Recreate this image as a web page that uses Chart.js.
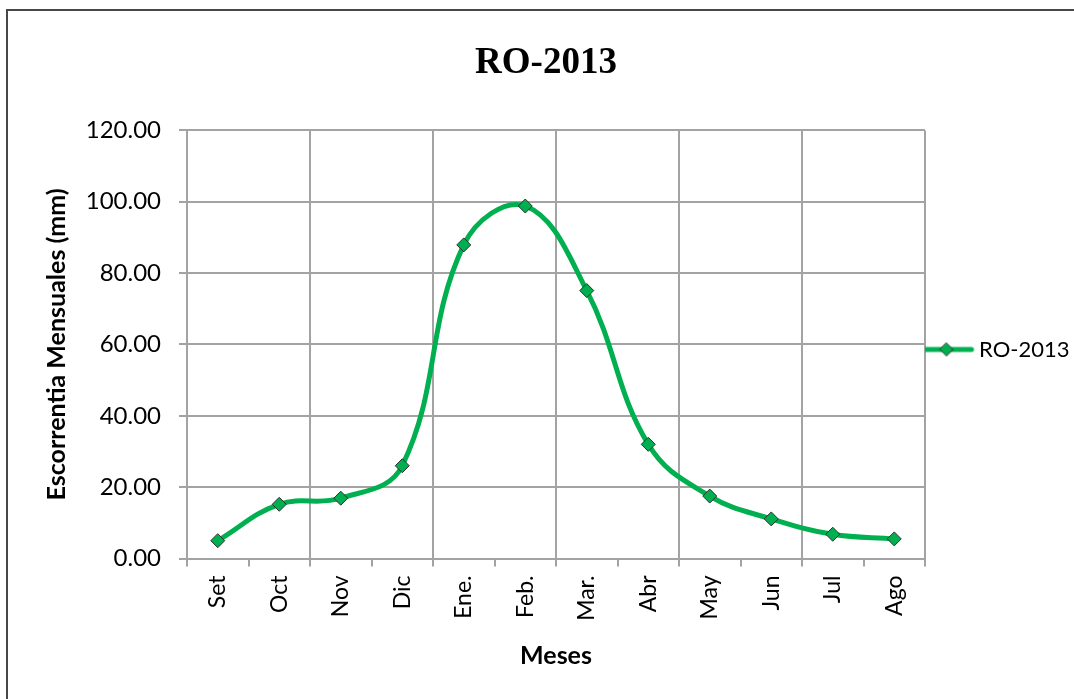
<!DOCTYPE html>
<html>
<head>
<meta charset="utf-8">
<title>RO-2013</title>
<script src="https://cdn.jsdelivr.net/npm/chart.js@4.4.1/dist/chart.umd.min.js"></script>
<style>
  html, body { margin: 0; padding: 0; background: #fff; }
  #wrap { position: relative; width: 1074px; height: 699px; overflow: hidden; }
  #frame { position: absolute; left: 6px; top: 9px; width: 1100px; height: 730px;
           border: 2px solid #474747; box-sizing: border-box; }
  #c { position: absolute; left: 0; top: 0; }
</style>
</head>
<body>
<div id="wrap">
  <div id="frame"></div>
  <canvas id="c" width="1074" height="699"></canvas>
</div>
<script>
// Escorrentía mensual, año hidrológico 2013 (mm)
const meses = ['Set', 'Oct', 'Nov', 'Dic', 'Ene.', 'Feb.', 'Mar.', 'Abr', 'May', 'Jun', 'Jul', 'Ago'];
const escorrentia = [5.0, 15.2, 16.9, 26.0, 87.9, 98.8, 75.1, 32.0, 17.5, 11.1, 6.8, 5.5];
const marcasY = [0, 20, 40, 60, 80, 100, 120];
const nombreSerie = 'RO-2013';

const VERDE = '#00B050';
const GRIS = '#a3a3a3';
const FUENTE = 'Lato, "Open Sans", sans-serif';

// Muestra de la leyenda: tramo de línea con el rombo en el centro
function muestraLeyenda() {
  const c = document.createElement('canvas');
  c.width = 60; c.height = 16;
  const g = c.getContext('2d');
  g.strokeStyle = VERDE; g.lineWidth = 5; g.lineCap = 'round';
  g.beginPath(); g.moveTo(3, 8); g.lineTo(55, 8); g.stroke();
  g.beginPath();
  g.moveTo(30, 1.5); g.lineTo(36.5, 8); g.lineTo(30, 14.5); g.lineTo(23.5, 8); g.closePath();
  g.fillStyle = VERDE; g.fill();
  g.strokeStyle = '#2f2f2f'; g.lineWidth = 1; g.stroke();
  return c;
}
const muestra = muestraLeyenda();

new Chart(document.getElementById('c'), {
  type: 'line',
  data: {
    labels: meses,
    datasets: [{
      label: nombreSerie,
      data: escorrentia,
      borderColor: VERDE,
      borderWidth: 5,
      tension: 0.4,
      fill: false,
      pointStyle: 'rectRot',
      pointRadius: 7,
      pointHoverRadius: 7,
      pointBackgroundColor: VERDE,
      pointBorderColor: '#2f2f2f',
      pointBorderWidth: 1
    }]
  },
  options: {
    responsive: false,
    animation: false,
    devicePixelRatio: 1,
    layout: { padding: { left: 18, right: 0, top: 0, bottom: 0 } },
    plugins: {
      title: {
        display: true,
        text: nombreSerie,
        color: '#000',
        font: { family: '"Liberation Serif", "Times New Roman", serif', size: 37, weight: 'bold' },
        padding: { top: 41, bottom: 45 }
      },
      legend: {
        position: 'right',
        maxWidth: 149,
        labels: {
          usePointStyle: true,
          pointStyleWidth: 43,
          padding: 0,
          color: '#000',
          font: { family: FUENTE, size: 22 },
          generateLabels(chart) {
            const items = Chart.defaults.plugins.legend.labels.generateLabels(chart);
            items.forEach(it => { it.pointStyle = muestra; });
            return items;
          }
        }
      },
      tooltip: { enabled: false }
    },
    scales: {
      x: {
        offset: true,
        grid: {
          offset: true,
          lineWidth: 2,
          color: ctx => (ctx.type !== 'tick' || ctx.index % 2 === 0) ? GRIS : 'rgba(0,0,0,0)',
          tickColor: GRIS,
          tickLength: 8
        },
        border: { color: GRIS, width: 2 },
        ticks: {
          minRotation: 90,
          maxRotation: 90,
          padding: 9,
          color: '#000',
          font: { family: FUENTE, size: 23 }
        },
        title: {
          display: true,
          text: 'Meses',
          color: '#000',
          font: { family: FUENTE, size: 25, weight: 'bold' },
          padding: { top: 10, bottom: 28 }
        },
        afterFit(s) { s.height = 140.5; }
      },
      y: {
        min: 0,
        max: 120,
        grid: { lineWidth: 2, color: GRIS, tickColor: GRIS, tickLength: 8 },
        border: { color: GRIS, width: 2 },
        afterBuildTicks(s) { s.ticks = marcasY.map(v => ({ value: v })); },
        ticks: {
          padding: 18,
          color: '#000',
          font: { family: FUENTE, size: 24 },
          callback: v => Number(v).toFixed(2)
        },
        title: {
          display: true,
          text: 'Escorrentia Mensuales (mm)',
          color: '#000',
          font: { family: FUENTE, size: 25, weight: 'bold' },
          padding: { top: 24, bottom: 4 }
        },
        afterFit(s) { s.width = 169; }
      }
    }
  }
});
</script>
</body>
</html>
